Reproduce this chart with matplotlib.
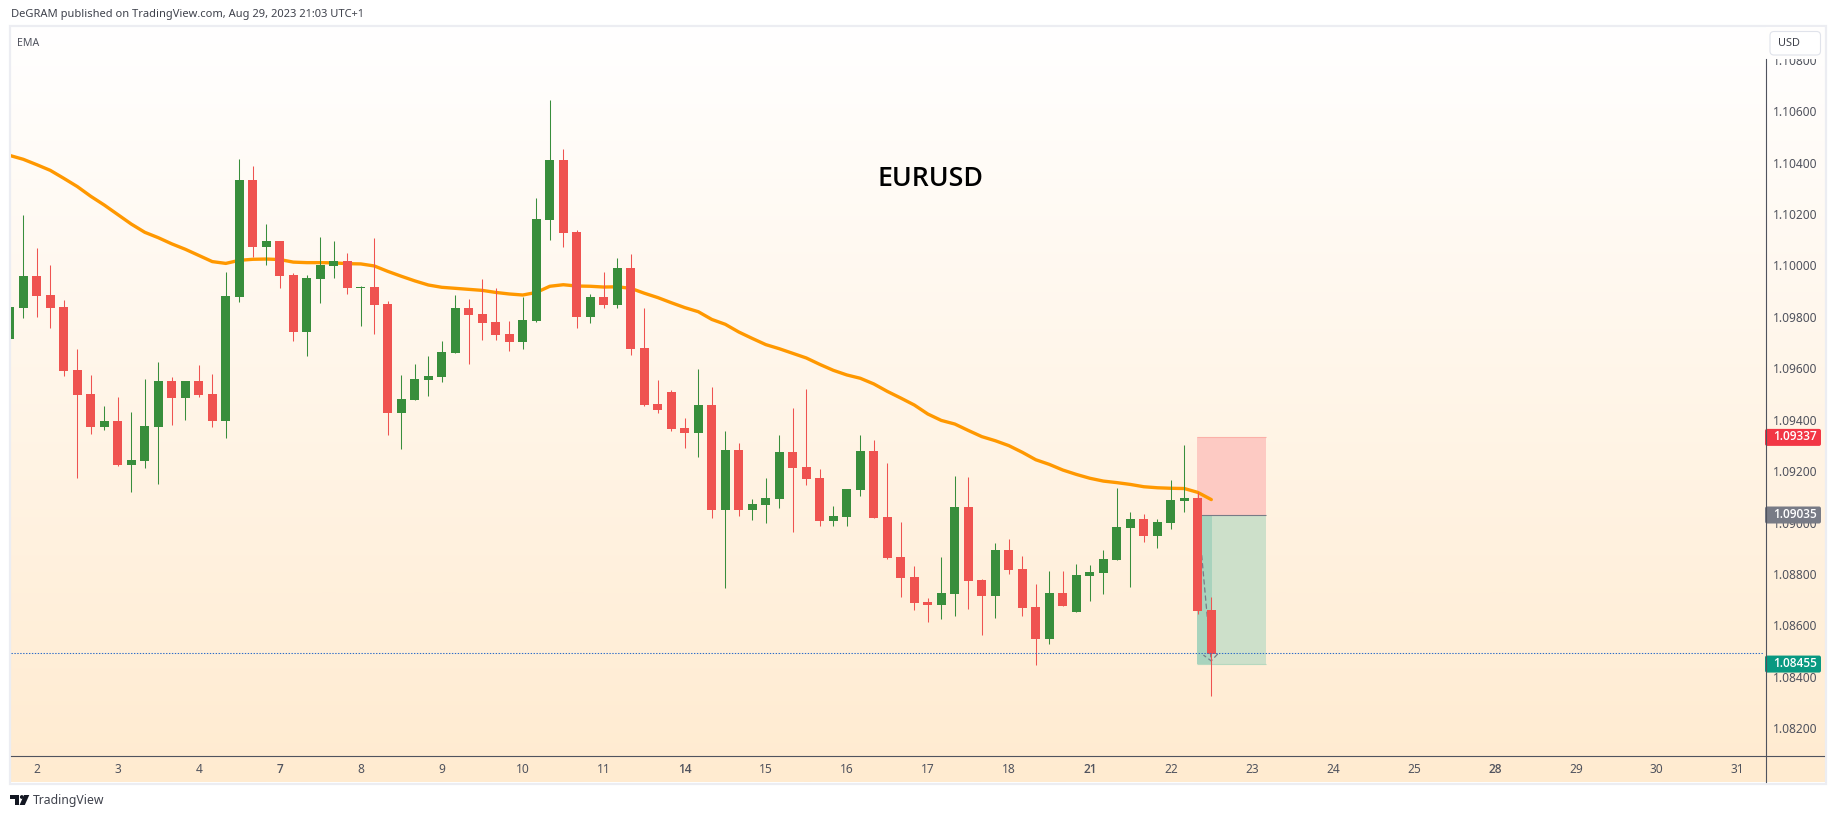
import numpy as np
import matplotlib
matplotlib.use("Agg")
import matplotlib.pyplot as plt
from matplotlib.patches import Rectangle, FancyBboxPatch, Polygon, Circle
from matplotlib.lines import Line2D
from matplotlib.transforms import IdentityTransform

opens = [1.09721,1.09841,1.09965,1.09891,1.09844,1.09599,1.09506,1.09377,1.09401,1.09230,
1.09245,1.09377,1.09556,1.09490,1.09556,1.09506,1.09401,1.09883,1.10339,1.10078,
1.10101,1.09969,1.09747,1.09953,1.10004,1.10023,1.09918,1.09922,1.09856,1.09432,
1.09483,1.09560,1.09572,1.09665,1.09841,1.09817,1.09786,1.09739,1.09708,1.09790,
1.10183,1.10416,1.10136,1.09805,1.09883,1.09852,1.09996,1.09685,1.09467,1.09514,
1.09374,1.09354,1.09463,1.09054,1.09288,1.09054,1.09074,1.09097,1.09280,1.09222,
1.09179,1.09012,1.09027,1.09132,1.09284,1.09027,1.08872,1.08794,1.08697,1.08685,
1.08728,1.09066,1.08782,1.08720,1.08899,1.08825,1.08677,1.08553,1.08732,1.08658,
1.08798,1.08809,1.08860,1.08984,1.09019,1.08953,1.09004,1.09089,1.09101,1.08665]
highs = [1.09844,1.10202,1.10074,1.10008,1.09872,1.09681,1.09580,1.09459,1.09494,1.09436,
1.09564,1.09630,1.09572,1.09556,1.09619,1.09584,1.09981,1.10420,1.10393,1.10167,
1.10101,1.09977,1.09969,1.10117,1.10101,1.10055,1.09926,1.10113,1.09868,1.09580,
1.09623,1.09654,1.09712,1.09891,1.09876,1.09953,1.09918,1.09790,1.09883,1.10268,
1.10650,1.10459,1.10144,1.09895,1.09981,1.10035,1.10051,1.09841,1.09560,1.09521,
1.09412,1.09603,1.09533,1.09362,1.09315,1.09097,1.09179,1.09346,1.09451,1.09525,
1.09214,1.09070,1.09136,1.09346,1.09327,1.09237,1.09008,1.08837,1.08712,1.08872,
1.09187,1.09183,1.08786,1.08926,1.08942,1.08875,1.08767,1.08817,1.08817,1.08844,
1.08841,1.08899,1.09140,1.09047,1.09039,1.09019,1.09171,1.09307,1.09124,1.08716]
lows = [1.09721,1.09803,1.09807,1.09764,1.09576,1.09179,1.09350,1.09366,1.09226,1.09125,
1.09218,1.09156,1.09385,1.09405,1.09494,1.09377,1.09335,1.09864,1.10039,1.10008,
1.09918,1.09712,1.09654,1.09860,1.09957,1.09895,1.09770,1.09739,1.09346,1.09292,
1.09483,1.09498,1.09553,1.09665,1.09623,1.09716,1.09716,1.09673,1.09681,1.09786,
1.10105,1.10078,1.09763,1.09782,1.09841,1.09841,1.09658,1.09459,1.09432,1.09362,
1.09296,1.09261,1.09023,1.08751,1.09031,1.09016,1.09004,1.09062,1.08969,1.09152,
1.08992,1.08992,1.08992,1.09109,1.09023,1.08864,1.08716,1.08665,1.08619,1.08630,
1.08642,1.08669,1.08568,1.08634,1.08805,1.08642,1.08451,1.08533,1.08681,1.08658,
1.08700,1.08728,1.08860,1.08755,1.08930,1.08907,1.08980,1.09047,1.08650,1.08331]
closes = [1.09844,1.09965,1.09887,1.09841,1.09595,1.09502,1.09377,1.09401,1.09230,1.09249,
1.09381,1.09556,1.09490,1.09556,1.09502,1.09401,1.09887,1.10339,1.10078,1.10101,
1.09965,1.09747,1.09957,1.10008,1.10023,1.09918,1.09922,1.09852,1.09432,1.09486,
1.09564,1.09576,1.09669,1.09841,1.09813,1.09782,1.09735,1.09708,1.09794,1.10187,
1.10416,1.10132,1.09805,1.09883,1.09852,1.09996,1.09681,1.09463,1.09444,1.09370,
1.09354,1.09463,1.09054,1.09288,1.09054,1.09078,1.09101,1.09280,1.09218,1.09175,
1.09012,1.09031,1.09136,1.09284,1.09023,1.08868,1.08790,1.08693,1.08685,1.08732,
1.09066,1.08778,1.08720,1.08899,1.08821,1.08673,1.08553,1.08732,1.08681,1.08802,
1.08813,1.08864,1.08988,1.09019,1.08953,1.09008,1.09093,1.09101,1.08661,1.08494]
ema = [1.10434,1.10419,1.10398,1.10376,1.10345,1.10313,1.10275,1.10241,1.10204,1.10167,
1.10135,1.10114,1.10090,1.10069,1.10045,1.10021,1.10014,1.10026,1.10030,1.10031,
1.10029,1.10019,1.10017,1.10017,1.10016,1.10013,1.10012,1.10004,1.09983,1.09964,
1.09946,1.09930,1.09921,1.09917,1.09913,1.09909,1.09901,1.09895,1.09891,1.09901,
1.09925,1.09931,1.09926,1.09925,1.09922,1.09923,1.09917,1.09898,1.09881,1.09861,
1.09842,1.09826,1.09796,1.09777,1.09747,1.09722,1.09698,1.09682,1.09664,1.09646,
1.09621,1.09598,1.09580,1.09567,1.09545,1.09516,1.09490,1.09463,1.09428,1.09403,
1.09389,1.09364,1.09340,1.09324,1.09305,1.09279,1.09250,1.09232,1.09210,1.09193,
1.09178,1.09167,1.09161,1.09154,1.09145,1.09141,1.09139,1.09138,1.09123,1.09095]

day_labels = ["2","3","4","7","8","9","10","11","14","15","16","17","18","21","22","23","24","25","28","29","30","31"]
week_starts = {"7","14","21","28"}
price_ticks = [1.082,1.084,1.086,1.088,1.090,1.092,1.094,1.096,1.098,1.100,1.102,1.104,1.106,1.108]

stop_price = 1.09337
entry_price = 1.09035
target_price = 1.08455
last_price = 1.08497

W, H = 1835, 818
GREEN, RED = "#388e3c", "#ef5350"
AXIS = "#50535e"
TXT = "#50535e"
FONT = "Noto Sans"
BOLD = "Open Sans"
plt.rcParams["font.family"] = [FONT, "DejaVu Sans"]

fig = plt.figure(figsize=(W/100, H/100), dpi=100, facecolor="white")

def box(l, t, r, b):
    return [l/W, 1-b/H, (r-l)/W, (b-t)/H]
def fx(x): return x/W
def fy(y): return 1-y/H

# framed gradient background
border = Rectangle((fx(9.5), fy(783.5)), (1825.5-9.5)/W, (783.5-25.5)/H, transform=fig.transFigure,
                   fc="none", ec="#ecedf2", lw=1.6)
fig.add_artist(border)
bg = fig.add_axes(box(11, 27, 1824, 782), zorder=0)
c0 = np.array([255, 255, 255])/255; c1 = np.array([255, 235, 208])/255
t = np.linspace(0, 1, 256)[:, None, None]
bg.imshow(c0*(1-t)+c1*t, aspect="auto", interpolation="bilinear")
bg.axis("off")

ax = fig.add_axes(box(11, 27, 1765, 755), zorder=1)
ax.patch.set_alpha(0)
x0, dx = 9.8, 13.5
ax.set_xlim((11-x0)/dx, (1765-x0)/dx)
ax.set_ylim(1.1-(755-267)/25700, 1.1+(267-27)/25700)
for s in ax.spines.values():
    s.set_visible(False)

idx = np.arange(len(opens))
o, h, l, c = map(np.array, (opens, highs, lows, closes))
colors = [GREEN if ci >= oi else RED for oi, ci in zip(o, c)]

# position tool
pos_l, pos_r, pos_m = 87.94, 93.03, 89.05
ax.add_patch(Rectangle((pos_l, entry_price), pos_r-pos_l, stop_price-entry_price, fc="#fdcac3", ec="none", zorder=2))
ax.add_patch(Rectangle((pos_l, target_price), pos_r-pos_l, entry_price-target_price, fc="#cde0ca", ec="none", zorder=2))
ax.add_patch(Rectangle((pos_l, target_price), pos_m-pos_l, entry_price-target_price, fc="#a8d3bd", ec="none", zorder=2.1))
ax.hlines(stop_price, pos_l, pos_r, color="#fbb0a8", lw=0.8, zorder=2.2)
ax.hlines(target_price, pos_l, pos_r, color="#b6d8bf", lw=0.8, zorder=2.2)
ax.hlines(entry_price, pos_l, pos_r, color="#787b86", lw=0.8, zorder=2.2)
ax.annotate("", xy=(89, 1.08464), xytext=(88.02, entry_price), zorder=2.3,
            arrowprops=dict(arrowstyle="->,head_length=0.45,head_width=0.5", ls=(0, (3.5, 3)), color="#787b86",
                            lw=0.9, shrinkA=0, shrinkB=0, mutation_scale=10))

ax.plot(idx, ema, color="#ff9800", lw=2.4, solid_capstyle="round", zorder=3)
ax.vlines(idx, l, h, colors=colors, lw=0.75, zorder=4)
ax.bar(idx, np.abs(c-o), bottom=np.minimum(o, c), width=0.667, color=colors, lw=0, zorder=4.1)
ax.hlines(last_price, ax.get_xlim()[0], (1763-x0)/dx, color="#2a6bc9", lw=0.75, ls=(0, (1.3, 1.5)), zorder=5)

# axes
ax.set_xticks(2+6*np.arange(len(day_labels)), day_labels)
ax.set_yticks(price_ticks, [f"{p:.5f}" for p in price_ticks])
ax.yaxis.tick_right()
ax.tick_params(axis="both", length=0, labelsize=8.6, labelcolor=TXT)
ax.tick_params(axis="x", pad=5.5)
ax.tick_params(axis="y", pad=5.8)
for lab in ax.get_yticklabels():
    lab.set_va("center")
for lab in ax.get_xticklabels():
    if lab.get_text() in week_starts:
        lab.set_family(BOLD)
        lab.set_fontweight("semibold")
        lab.set_color("#50535e")

ident = IdentityTransform()
def px_rect(l_, t_, r_, b_, **kw):
    return Rectangle((l_, H-b_), r_-l_, b_-t_, transform=ident, **kw)

# cover above the price scale
ax.add_artist(px_rect(1766, 27, 1824, 59, fc="#fffefd", ec="none", zorder=8, clip_on=False))
fig.add_artist(Line2D([fx(1765.5)]*2, [fy(59), fy(782)], color=AXIS, lw=0.8, zorder=9))
fig.add_artist(Line2D([fx(11), fx(1824)], [fy(755.5)]*2, color=AXIS, lw=0.8, zorder=9))

usd = FancyBboxPatch((1770, H-55), 50.5, 23.5, boxstyle="round,pad=0,rounding_size=4", transform=ident,
                     fc="white", ec="#e0e3eb", lw=0.8, zorder=9, clip_on=False)
ax.add_artist(usd)
fig.text(fx(1778), fy(44), "USD", fontsize=7.9, color="#3f424c", va="center", ha="left", zorder=10)

# price badges
for price, col in [(stop_price, "#f23645"), (entry_price, "#787b86"), (target_price, "#089981")]:
    yc = ax.transData.transform((0, price))[1]
    ax.add_artist(FancyBboxPatch((1765, yc-8.5), 56, 17, boxstyle="round,pad=0,rounding_size=2", transform=ident,
                                 fc=col, ec="none", zorder=10, clip_on=False))
    ax.text(1773.3/1, yc+0.5, f"{price:.5f}", transform=ident, color="white", fontsize=8.6, family=BOLD, fontweight="semibold",
            va="center", ha="left", zorder=11, clip_on=False)

# texts
fig.text(fx(10.5), fy(14.5), "DeGRAM published on TradingView.com, Aug 29, 2023 21:03 UTC+1",
         fontsize=8.0, color="#3f424c", va="center", ha="left")
fig.text(fx(17), fy(43), "EMA", fontsize=7.6, color=TXT, va="center", ha="left", zorder=5)
fig.text(fx(930), fy(179.5), "EURUSD", fontsize=19.3, family=BOLD, fontweight="semibold", color="black", va="center", ha="center", zorder=5)
fig.text(fx(33), fy(800.5), "TradingView", fontsize=8.8, color="#3f424c", va="center", ha="left")

# TradingView mark
dark = "#131722"
def poly(pts):
    fig.add_artist(Polygon([(x, H-y) for x, y in pts], closed=True, transform=ident, fc=dark, ec="none"))
poly([(10, 795), (19, 795), (19, 805), (14.5, 805), (14.5, 799), (10, 799)])
poly([(24, 795), (29.3, 795), (24.8, 805), (19.6, 805)])
fig.add_artist(Circle((21.8, H-797), 1.9, transform=ident, fc=dark, ec="none"))

fig.savefig("out.png", dpi=100)
